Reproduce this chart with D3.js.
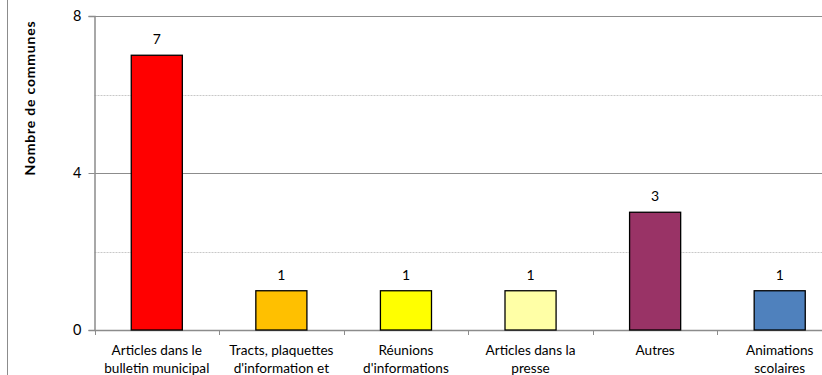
<!DOCTYPE html>
<html>
<head>
<meta charset="utf-8">
<script src="https://cdnjs.cloudflare.com/ajax/libs/d3/7.8.5/d3.min.js"></script>
<style>
  body { margin: 0; background: #fff; }
  svg { display: block; font-family: Lato, "Open Sans", sans-serif; }
</style>
</head>
<body>
<svg id="chart" width="822" height="375"></svg>
<script>
// data
var categories = [
  ["Articles dans le", "bulletin municipal"],
  ["Tracts, plaquettes", "d'information et"],
  ["Réunions", "d'informations"],
  ["Articles dans la", "presse"],
  ["Autres"],
  ["Animations", "scolaires"]
];
var values = [7, 1, 1, 1, 3, 1];
var colors = ["#ff0000", "#ffc000", "#ffff00", "#ffffa6", "#993366", "#4f81bd"];
var majorTicks = [0, 4, 8];
var minorTicks = [2, 6];

var svg = d3.select("#chart"),
    width = +svg.attr("width"),
    height = +svg.attr("height");

var x0 = 94.5, x1 = 842, yTop = 16, yBot = 330;

var x = d3.scaleBand()
    .domain(d3.range(categories.length))
    .range([x0, x1])
    .paddingInner(0.59)
    .paddingOuter(0.295);

var y = d3.scaleLinear()
    .domain([0, 8])
    .range([yBot, yTop]);

// outer chart border (left side only visible)
svg.append("line")
    .attr("x1", 7.5).attr("x2", 7.5)
    .attr("y1", 0).attr("y2", height)
    .attr("stroke", "#8c8c8c");

// minor gridlines
svg.append("g")
    .selectAll("line")
    .data(minorTicks)
    .enter().append("line")
    .attr("x1", x0).attr("x2", width)
    .attr("y1", function (d) { return Math.round(y(d)) + 0.5; })
    .attr("y2", function (d) { return Math.round(y(d)) + 0.5; })
    .attr("stroke", "#c8c8c8")
    .attr("stroke-dasharray", "2,1");

// major gridlines
svg.append("g")
    .selectAll("line")
    .data(majorTicks.slice(1))
    .enter().append("line")
    .attr("x1", x0).attr("x2", width)
    .attr("y1", function (d) { return Math.round(y(d)) + 0.5; })
    .attr("y2", function (d) { return Math.round(y(d)) + 0.5; })
    .attr("stroke", "#8c8c8c")
    .attr("stroke-width", 1.2);

// y axis
var yAxis = svg.append("g")
    .attr("transform", "translate(" + x0 + ",0)")
    .call(d3.axisLeft(y).tickValues(majorTicks).tickSize(6).tickPadding(7).tickFormat(d3.format("d")));
yAxis.select(".domain").attr("stroke", "#8c8c8c").attr("stroke-width", 1.5);
yAxis.selectAll(".tick line").attr("stroke", "#8c8c8c");
yAxis.selectAll(".tick text")
    .attr("fill", "#000")
    .style("font-size", "14.5px")
    .style("font-family", "Lato, sans-serif");

// x axis (ticks between categories)
var xTicks = d3.range(categories.length + 1).map(function (i) {
    return x0 + i * x.step();
});
svg.append("line")
    .attr("x1", x0).attr("x2", width)
    .attr("y1", yBot + 0.5).attr("y2", yBot + 0.5)
    .attr("stroke", "#8c8c8c")
    .attr("stroke-width", 1.5);
svg.append("g")
    .selectAll("line")
    .data(xTicks)
    .enter().append("line")
    .attr("x1", function (d) { return Math.round(d) + 0.5; })
    .attr("x2", function (d) { return Math.round(d) + 0.5; })
    .attr("y1", yBot).attr("y2", yBot + 5)
    .attr("stroke", "#8c8c8c");

// bars
svg.append("g")
    .selectAll("rect")
    .data(values)
    .enter().append("rect")
    .attr("x", function (d, i) { return x(i); })
    .attr("y", function (d) { return y(d); })
    .attr("width", x.bandwidth())
    .attr("height", function (d) { return yBot - y(d); })
    .attr("fill", function (d, i) { return colors[i]; })
    .attr("stroke", "#000")
    .attr("stroke-width", 1.3);

// value labels
svg.append("g")
    .selectAll("text")
    .data(values)
    .enter().append("text")
    .attr("x", function (d, i) { return x(i) + x.bandwidth() / 2; })
    .attr("y", function (d) { return y(d) - 11; })
    .attr("text-anchor", "middle")
    .style("font-size", "14px")
    .text(function (d) { return d; });

// category labels
var catLabels = svg.append("g")
    .selectAll("text")
    .data(categories)
    .enter().append("text")
    .attr("text-anchor", "middle")
    .attr("x", function (d, i) { return x(i) + x.bandwidth() / 2; })
    .attr("y", 355)
    .style("font-size", "13.6px");
catLabels.selectAll("tspan")
    .data(function (d) { return d; })
    .enter().append("tspan")
    .attr("x", function () { return d3.select(this.parentNode).attr("x"); })
    .attr("dy", function (d, i) { return i ? 18 : 0; })
    .text(function (d) { return d; });

// y axis title
svg.append("text")
    .attr("transform", "translate(35,98) rotate(-90)")
    .attr("text-anchor", "middle")
    .style("font-size", "14px")
    .style("font-weight", "bold")
    .style("letter-spacing", "0.8px")
    .text("Nombre de communes");
</script>
</body>
</html>
